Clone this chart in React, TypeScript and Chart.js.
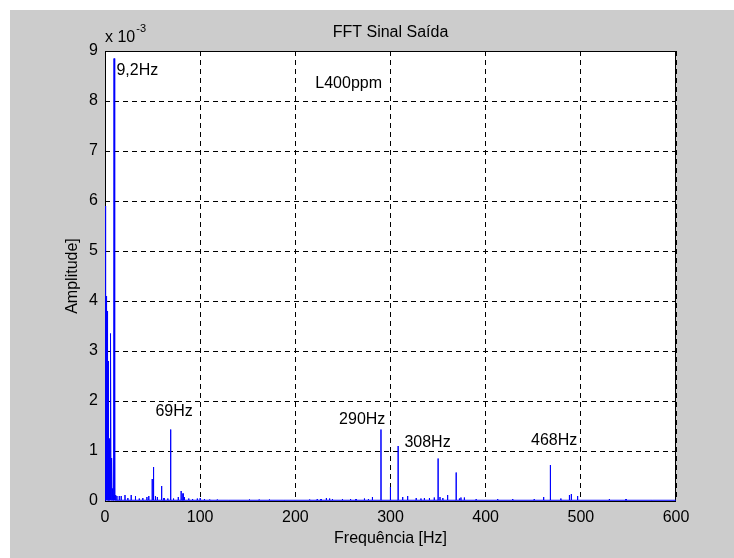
import React, { useEffect, useRef } from "react";
import { Chart, registerables } from "chart.js";

Chart.register(...registerables);

// Spectrum spikes: frequency [Hz] and amplitude [x 10^-3]
const spikeFreqHz = [
  0.3, 0.5, 0.7, 0.9, 1.1, 1.3, 1.5, 1.7, 1.9, 2.1, 2.3, 2.5, 2.7, 2.9, 3.1, 3.3, 3.5, 3.7, 3.9,
  4.1, 4.3, 4.5, 4.7, 4.9, 5.1, 5.3, 5.5, 5.7, 5.9, 6.3, 6.7, 7.0, 7.3, 7.6, 8.0, 8.4, 8.8,
  9.5, 10.4, 11.2, 12.5, 15, 17, 21, 24, 27.5, 32, 36, 39.7, 44, 46, 49.6, 51, 53, 55, 59.5, 62,
  66, 69, 72, 77, 80, 82, 83.5, 88, 92, 97, 100, 104.5, 110, 118, 130, 151.8, 162, 172.8, 188, 200,
  215, 223, 227, 232.6, 236, 239, 249.5, 258, 263.8, 272.6, 276.8, 281, 290, 299.9, 308, 312.8, 318, 327, 332, 335.6,
  340.9, 346, 350, 352, 355, 360, 369, 372.4, 374, 377.6, 390, 412.6, 428.4, 451, 460.9, 468, 479, 488, 490, 496.6,
  530, 547.5, 575, 600
];
const spikeAmp = [
  5.9, 4.1, 3.9, 4.12, 4.0, 4.1, 3.7, 4.05, 3.6, 3.9, 3.5, 3.8, 3.2, 3.5, 2.9, 2.8, 2.6, 2.8, 2.3,
  2.0, 1.25, 1.2, 1.1, 1.22, 0.9, 0.8, 0.65, 0.55, 0.45, 3.35, 0.35, 0.3, 0.86, 0.25, 0.2, 0.15, 0.12,
  8.85, 0.15, 0.12, 0.1, 0.1, 0.1, 0.12, 0.06, 0.12, 0.1, 0.05, 0.06, 0.08, 0.1, 0.44, 0.68, 0.1, 0.08, 0.3, 0.06,
  0.05, 1.43, 0.05, 0.08, 0.2, 0.15, 0.08, 0.05, 0.04, 0.05, 0.06, 0.04, 0.03, 0.03, 0.02, 0.03, 0.03, 0.03, 0.02, 0.02,
  0.03, 0.04, 0.04, 0.06, 0.05, 0.04, 0.04, 0.04, 0.04, 0.05, 0.04, 0.08, 1.43, 0.28, 1.1, 0.08, 0.1, 0.06, 0.05, 0.06,
  0.06, 0.07, 0.85, 0.08, 0.06, 0.12, 0.57, 0.05, 0.07, 0.07, 0.04, 0.04, 0.04, 0.04, 0.08, 0.72, 0.05, 0.12, 0.14, 0.1,
  0.04, 0.04, 0.02, 0.02
];
const noiseFloor = 0.015;

const xTickValues = [0, 100, 200, 300, 400, 500, 600];
const yTickValues = [0, 1, 2, 3, 4, 5, 6, 7, 8, 9];

const chartTitle = "FFT Sinal Saída";
const xAxisTitle = "Frequência [Hz]";
const yAxisTitle = "Amplitude]";

// Text annotations placed in data coordinates (Hz, x 10^-3)
const noteText = ["9,2Hz", "L400ppm", "69Hz", "290Hz", "308Hz", "468Hz"];
const noteX = [12, 221, 53, 246, 314.6, 447.7];
const noteY = [8.6, 8.34, 1.78, 1.62, 1.17, 1.2];

const FONT = "'Liberation Sans', Arial, sans-serif";

export default function App() {
  const ref = useRef<HTMLCanvasElement | null>(null);

  useEffect(() => {
    const canvas = ref.current;
    if (!canvas) return;

    const pts: { x: number; y: number }[] = [{ x: 0, y: noiseFloor }];
    const hw = 0.07;
    for (let i = 0; i < spikeFreqHz.length; i++) {
      const f = spikeFreqHz[i];
      const a = spikeAmp[i];
      if (f - hw >= 0) pts.push({ x: f - hw, y: noiseFloor });
      pts.push({ x: f, y: a });
      if (f + hw <= 600) pts.push({ x: f + hw, y: noiseFloor });
    }

    const decor = {
      id: "decor",
      beforeDraw(chart: any) {
        const { ctx, chartArea: a } = chart;
        ctx.save();
        ctx.fillStyle = "#ffffff";
        ctx.fillRect(0, 0, chart.width, chart.height);
        ctx.fillStyle = "#cccccc";
        ctx.fillRect(10, 10, chart.width - 10, chart.height - 10);
        ctx.fillStyle = "#ffffff";
        ctx.fillRect(a.left, a.top, a.right - a.left, a.bottom - a.top);
        ctx.restore();
      },
      beforeDatasetsDraw(chart: any) {
        const { ctx, chartArea: a } = chart;
        ctx.save();
        ctx.strokeStyle = "#000";
        ctx.lineWidth = 1;
        ctx.setLineDash([]);
        ctx.strokeRect(a.left + 0.5, a.top + 0.5, a.right - a.left - 1, a.bottom - a.top);
        ctx.restore();
      },
      afterDraw(chart: any) {
        const { ctx, chartArea: a } = chart;
        const xs = chart.scales.x;
        const ys = chart.scales.y;
        ctx.save();
        ctx.fillStyle = "#000";
        ctx.font = `16px ${FONT}`;
        ctx.textAlign = "center";
        ctx.textBaseline = "middle";
        ctx.fillText(chartTitle, (a.left + a.right) / 2, 33);
        ctx.fillText(xAxisTitle, (a.left + a.right) / 2, 539);
        ctx.save();
        ctx.translate(73, (a.top + a.bottom) / 2);
        ctx.rotate(-Math.PI / 2);
        ctx.fillText(yAxisTitle, 0, 0);
        ctx.restore();
        // exponent label
        ctx.textAlign = "left";
        ctx.textBaseline = "alphabetic";
        ctx.fillText("x 10", a.left, 42);
        const w = ctx.measureText("x 10").width;
        ctx.font = `11px ${FONT}`;
        ctx.fillText("-3", a.left + w + 1, 32);
        // annotations
        ctx.font = `16px ${FONT}`;
        ctx.textBaseline = "middle";
        for (let i = 0; i < noteText.length; i++) {
          ctx.fillText(noteText[i], xs.getPixelForValue(noteX[i]), ys.getPixelForValue(noteY[i]));
        }
        ctx.restore();
      },
    };

    const chart = new Chart(canvas, {
      type: "line",
      data: {
        datasets: [
          {
            data: pts,
            borderColor: "#0000ff",
            borderWidth: 1,
            pointRadius: 0,
            tension: 0,
            fill: false,
          },
        ],
      },
      options: {
        animation: false,
        responsive: false,
        maintainAspectRatio: false,
        layout: { padding: { left: 0, top: 51, right: 58, bottom: 0 } },
        plugins: { legend: { display: false }, tooltip: { enabled: false }, title: { display: false } },
        scales: {
          x: {
            type: "linear",
            min: 0,
            max: 600,
            afterFit: (s: any) => { s.height = 57; },
            afterBuildTicks: (s: any) => { s.ticks = xTickValues.map((v) => ({ value: v })); },
            ticks: { color: "#000", font: { family: FONT, size: 16 }, padding: 7, maxRotation: 0, autoSkip: false },
            grid: { color: "#000", lineWidth: 1, drawTicks: false },
            border: { display: false, dash: [5, 4] },
          },
          y: {
            type: "linear",
            min: 0,
            max: 9,
            afterFit: (s: any) => { s.width = 105; },
            afterBuildTicks: (s: any) => { s.ticks = yTickValues.map((v) => ({ value: v })); },
            ticks: { color: "#000", font: { family: FONT, size: 16 }, padding: 7, autoSkip: false },
            grid: { color: "#000", lineWidth: 1, drawTicks: false },
            border: { display: false, dash: [5, 4] },
          },
        },
      },
      plugins: [decor],
    });

    return () => chart.destroy();
  }, []);

  return (
    <div style={{ position: "fixed", left: 0, top: 0, width: 734, height: 558 }}>
      <canvas ref={ref} width={734} height={558} style={{ width: 734, height: 558, display: "block" }} />
    </div>
  );
}
